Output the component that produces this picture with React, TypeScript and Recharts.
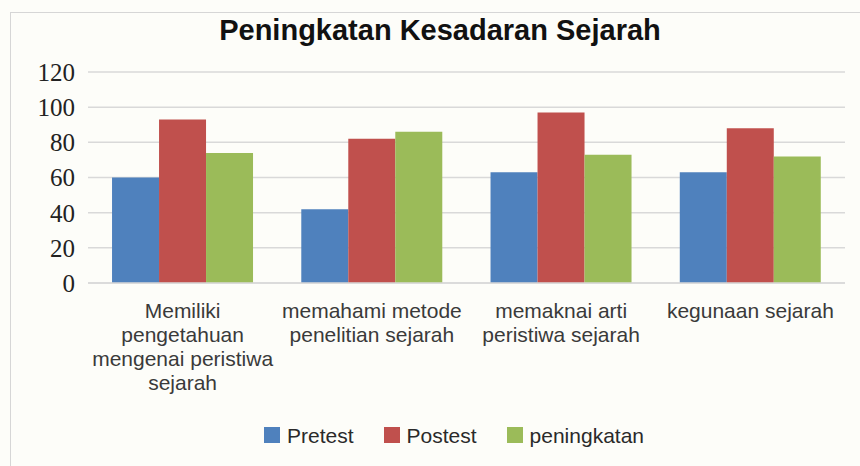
import React from "react";
import { BarChart, Bar, XAxis, YAxis, CartesianGrid, Legend } from "recharts";

const categoryLines: string[][] = [
  ["Memiliki", "pengetahuan", "mengenai peristiwa", "sejarah"],
  ["memahami metode", "penelitian sejarah"],
  ["memaknai arti", "peristiwa sejarah"],
  ["kegunaan sejarah"],
];
const categories = categoryLines.map((l) => l.join(" "));

const pretest = [60, 42, 63, 63];
const postest = [93, 82, 97, 88];
const peningkatan = [74, 86, 73, 72];

const yTicks = [0, 20, 40, 60, 80, 100, 120];

const seriesNames = ["Pretest", "Postest", "peningkatan"];
const seriesKeys = ["pretest", "postest", "peningkatan"];
const seriesColors = ["#4F81BD", "#C0504D", "#9BBB59"];

const data = categories.map((c, i) => ({
  name: c,
  pretest: pretest[i],
  postest: postest[i],
  peningkatan: peningkatan[i],
}));

const XTick = (props: any) => {
  const { x, y, payload } = props;
  const lines = categoryLines[payload.index] || [String(payload.value)];
  return (
    <g>
      {lines.map((ln, i) => (
        <text
          key={i}
          x={x}
          y={y + 34.5 + i * 24}
          textAnchor="middle"
          fontFamily="'Liberation Sans', Arial, sans-serif"
          fontSize={21}
          fill="#3a3a3a"
        >
          {ln}
        </text>
      ))}
    </g>
  );
};

const LegendContent = () => (
  <div style={{ display: "flex", alignItems: "center", height: 22 }}>
    {seriesNames.map((n, i) => (
      <div
        key={n}
        style={{ display: "flex", alignItems: "center", marginRight: i < seriesNames.length - 1 ? 30 : 0 }}
      >
        <div style={{ width: 16, height: 16, background: seriesColors[i], marginRight: 7 }} />
        <span
          style={{
            fontFamily: "'Liberation Sans', Arial, sans-serif",
            fontSize: 21,
            lineHeight: "21px",
            color: "#2a2a2a",
            whiteSpace: "nowrap",
          }}
        >
          {n}
        </span>
      </div>
    ))}
  </div>
);

export default function App() {
  return (
    <div
      style={{
        position: "absolute",
        left: 0,
        top: 0,
        width: 860,
        height: 466,
        background: "#fdfdf9",
        overflow: "hidden",
      }}
    >
      <div
        style={{
          position: "absolute",
          left: 10,
          top: 12,
          width: 860,
          height: 470,
          borderTop: "1.5px solid #d6d6d6",
          borderLeft: "1.5px solid #d6d6d6",
        }}
      />
      <div
        style={{
          position: "absolute",
          left: 0,
          top: 15.5,
          width: 880,
          textAlign: "center",
          fontFamily: "'Liberation Sans', Arial, sans-serif",
          fontWeight: "bold",
          fontSize: 29,
          lineHeight: "29px",
          color: "#111",
          whiteSpace: "nowrap",
        }}
      >
        Peningkatan Kesadaran Sejarah
      </div>
      <div style={{ position: "absolute", left: 0, top: 0 }}>
        <BarChart
          width={860}
          height={466}
          data={data}
          margin={{ top: 72, right: 15, left: 0, bottom: 73 }}
          barCategoryGap="12.7%"
          barGap={0}
        >
          <CartesianGrid vertical={false} stroke="#d9d9d9" strokeWidth={1.5} />
          <XAxis
            dataKey="name"
            height={110}
            tickLine={false}
            tickSize={0}
            tickMargin={0}
            axisLine={{ stroke: "#d9d9d9", strokeWidth: 1.5 }}
            tick={<XTick />}
            interval={0}
          />
          <YAxis
            width={88}
            domain={[0, 120]}
            ticks={yTicks}
            axisLine={false}
            tickLine={false}
            tickSize={0}
            tickMargin={13}
            tick={{
              fontFamily: "'Liberation Serif', 'Times New Roman', serif",
              fontSize: 25,
              fill: "#222",
            }}
          />
          <Legend
            layout="vertical"
            align="center"
            verticalAlign="middle"
            content={<LegendContent />}
            wrapperStyle={{ left: 264, top: 424, width: "auto", height: 22 }}
          />
          {seriesKeys.map((k, i) => (
            <Bar
              key={k}
              dataKey={k}
              name={seriesNames[i]}
              fill={seriesColors[i]}
              isAnimationActive={false}
            />
          ))}
        </BarChart>
      </div>
    </div>
  );
}
